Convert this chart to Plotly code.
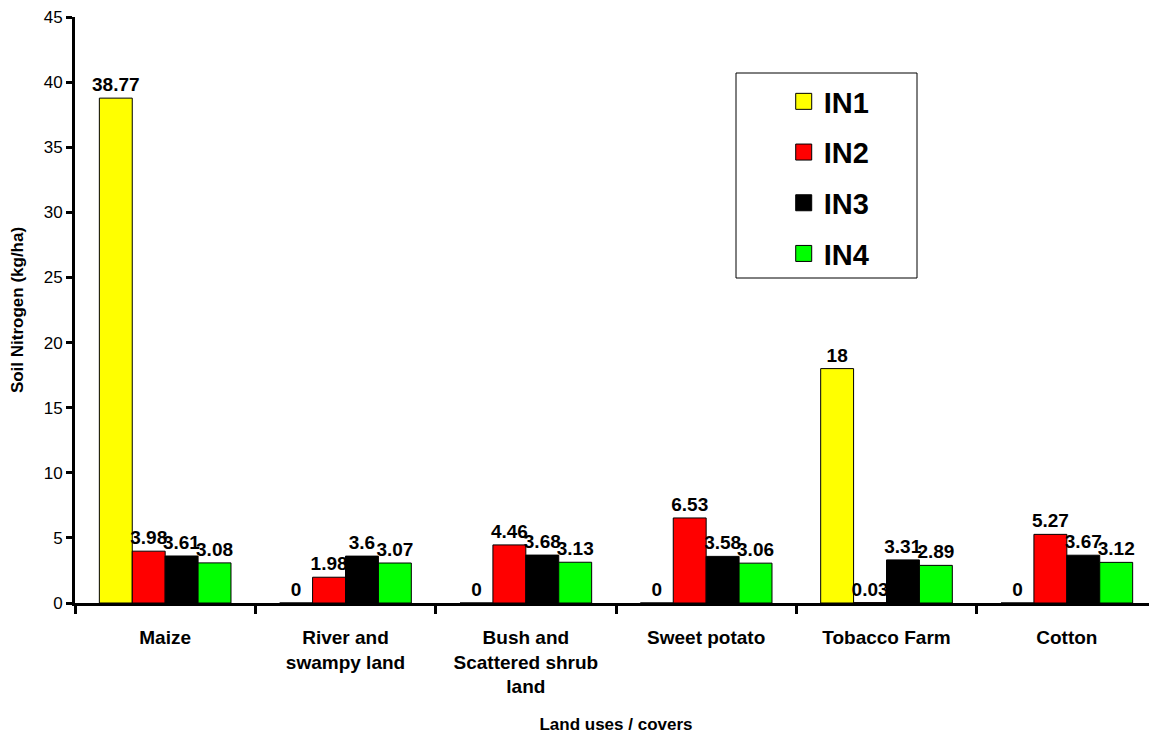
import plotly.graph_objects as go

categories = ["Maize", "River and<br>swampy land", "Bush and<br>Scattered shrub<br>land",
              "Sweet potato", "Tobacco Farm", "Cotton"]
series_names = ["IN1", "IN2", "IN3", "IN4"]
in1 = [38.77, 0, 0, 0, 18, 0]
in2 = [3.98, 1.98, 4.46, 6.53, 0.03, 5.27]
in3 = [3.61, 3.6, 3.68, 3.58, 3.31, 3.67]
in4 = [3.08, 3.07, 3.13, 3.06, 2.89, 3.12]
values = [in1, in2, in3, in4]
colors = ["#FFFF00", "#FF0000", "#000000", "#00FF00"]

FONT = "Liberation Sans, Arial, sans-serif"

# page body has an 8px margin; compensate so the plot area lands at ~75..1157 x 17..603
W, H = 1149, 726
L, R, T, B = 67, 0, 9, 131
PW = W - L - R
PH = H - T - B

fig = go.Figure()
for name, vals, col in zip(series_names, values, colors):
    fig.add_trace(go.Bar(
        x=categories, y=vals, name=name,
        marker=dict(color=col, line=dict(color="black", width=1)),
        text=[f"{v:g}" for v in vals], textposition="outside",
        constraintext="none",
        textfont=dict(family=FONT, size=19, color="black", weight="bold"),
        cliponaxis=False, showlegend=False,
    ))
# legend entries
for name, col in zip(series_names, colors):
    fig.add_trace(go.Scatter(
        x=[None], y=[None], mode="markers", name=name,
        legendgroup=name,
        marker=dict(symbol="square", size=16, color=col, line=dict(color="black", width=1)),
    ))

fig.update_layout(
    width=W, height=H,
    paper_bgcolor="white", plot_bgcolor="white",
    margin=dict(l=L, r=R, t=T, b=B),
    barmode="group", bargap=0.27, bargroupgap=0,
    font=dict(family=FONT, color="black"),
    legend=dict(
        x=0.655, y=(603 - 76) / PH, xanchor="left", yanchor="top",
        bgcolor="rgba(0,0,0,0)", borderwidth=0,
        font=dict(family=FONT, size=29, color="black", weight="bold"),
        traceorder="grouped", tracegroupgap=10,
        itemsizing="trace",
    ),
    shapes=[dict(type="rect", xref="paper", yref="paper",
                 x0=(736 - 75) / PW, x1=(917 - 75) / PW,
                 y0=(603 - 278) / PH, y1=(603 - 73) / PH,
                 line=dict(color="black", width=1), fillcolor="rgba(0,0,0,0)", layer="below")],
)
fig.update_xaxes(
    showline=True, linecolor="black", linewidth=3,
    ticks="outside", tickson="boundaries", ticklen=8, tickwidth=3, tickcolor="black",
    tickfont=dict(family=FONT, size=19, color="black", weight="bold"),
    ticklabelstandoff=15,
    title=dict(text="Land uses / covers", font=dict(family=FONT, size=17, color="black", weight="bold"), standoff=22),
    showgrid=False, automargin=False,
)
fig.update_yaxes(
    range=[0, 45], dtick=5, showline=True, linecolor="black", linewidth=3,
    ticks="outside", ticklen=6, tickwidth=3, tickcolor="black",
    tickfont=dict(family=FONT, size=17, color="black"),
    ticklabeloverflow="allow",
    title=dict(text="Soil Nitrogen (kg/ha)", font=dict(family=FONT, size=17, color="black", weight="bold"), standoff=16),
    showgrid=False, zeroline=False, automargin=False,
)

fig.write_html("out.html")
